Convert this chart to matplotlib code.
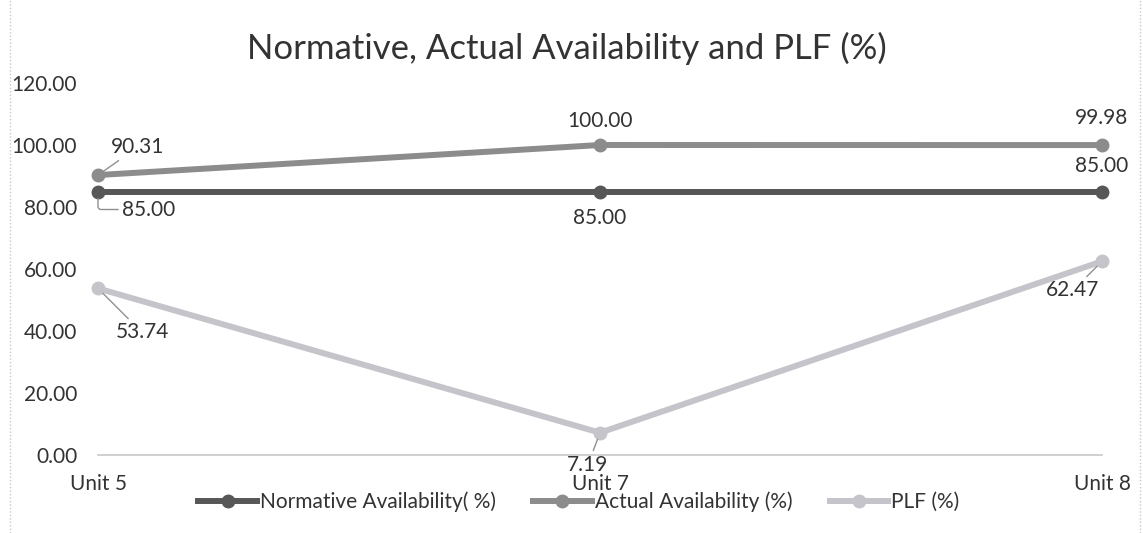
import matplotlib
matplotlib.use("Agg")
import matplotlib.pyplot as plt
from matplotlib.lines import Line2D

categories = ["Unit 5", "Unit 7", "Unit 8"]
normative = [85.00, 85.00, 85.00]
actual = [90.31, 100.00, 99.98]
plf = [53.74, 7.19, 62.47]
yticks = [0, 20, 40, 60, 80, 100, 120]

plt.rcParams['font.family'] = ['Lato', 'DejaVu Sans']

W, H = 1143, 533
fig = plt.figure(figsize=(W / 100, H / 100), dpi=100)
fig.patch.set_facecolor("white")
ax = fig.add_axes([98 / W, 1 - 455 / H, (1102 - 98) / W, (455 - 83) / H])

c_norm = "#575757"
c_act = "#8c8c8c"
c_plf = "#c4c4ca"
x = list(range(len(categories)))
lw = 4.3
ms = 9
ax.plot(x, normative, color=c_norm, lw=lw, marker="o", ms=ms, clip_on=False,
        label="Normative Availability( %)", zorder=3)
ax.plot(x, actual, color=c_act, lw=lw, marker="o", ms=ms, clip_on=False,
        label="Actual Availability (%)", zorder=3)
ax.plot(x, plf, color=c_plf, lw=lw, marker="o", ms=ms, clip_on=False,
        label="PLF (%)", zorder=3)

ax.set_xlim(0, 2)
ax.set_ylim(0, 120)
ax.set_yticks(yticks)
ax.set_yticklabels([f"{v:.2f}" for v in yticks])
ax.set_xticks(x)
ax.set_xticklabels(categories)
ax.tick_params(axis="y", length=0, pad=15, labelsize=15, labelcolor="#333333")
ax.tick_params(axis="x", length=0, pad=14, labelsize=15, labelcolor="#333333")
for s in ["top", "right", "left"]:
    ax.spines[s].set_visible(False)
ax.spines["bottom"].set_color("#c8c8c8")
ax.spines["bottom"].set_linewidth(1.2)
ax.spines["bottom"].set_linestyle((0, (1, 1)))

txt = dict(fontsize=15, color="#333333", ha="center", va="center",
           textcoords="offset pixels")
lead = dict(arrowstyle="-", color="#909090", lw=1, shrinkA=1, shrinkB=5)

ax.annotate(f"{actual[0]:.2f}", (0, actual[0]), xytext=(40, 28), arrowprops=lead, **txt)
ax.annotate(f"{normative[0]:.2f}", (0, normative[0]), xytext=(51, -18),
            arrowprops=dict(lead, connectionstyle="angle,angleA=180,angleB=90,rad=3"), **txt)
ax.annotate(f"{actual[1]:.2f}", (1, actual[1]), xytext=(0, 24), **txt)
ax.annotate(f"{normative[1]:.2f}", (1, normative[1]), xytext=(0, -26), **txt)
ax.annotate(f"{actual[2]:.2f}", (2, actual[2]), xytext=(0, 27), **txt)
ax.annotate(f"{normative[2]:.2f}", (2, normative[2]), xytext=(0, 25), **txt)
ax.annotate(f"{plf[0]:.2f}", (0, plf[0]), xytext=(44, -44), arrowprops=lead, **txt)
ax.annotate(f"{plf[1]:.2f}", (1, plf[1]), xytext=(-12, -32), arrowprops=lead, **txt)
ax.annotate(f"{plf[2]:.2f}", (2, plf[2]), xytext=(-29, -29), arrowprops=lead, **txt)

fig.suptitle("Normative, Actual Availability and PLF (%)", x=567 / W, y=1 - 48 / H,
             va="center", ha="center", fontsize=25, color="#333333")

fig.legend(loc="center", bbox_to_anchor=(579 / W, 1 - 502 / H), ncol=3, frameon=False,
           fontsize=15, handlelength=2.8, handletextpad=0.15, columnspacing=1.8,
           labelcolor="#333333")

for xb in (10, 1140):
    fig.add_artist(Line2D([xb / W, xb / W], [0, 1], transform=fig.transFigure,
                          color="#c8c8c8", lw=1, linestyle=(0, (1, 1.5))))

fig.savefig("out.png", dpi=100, facecolor="white")
